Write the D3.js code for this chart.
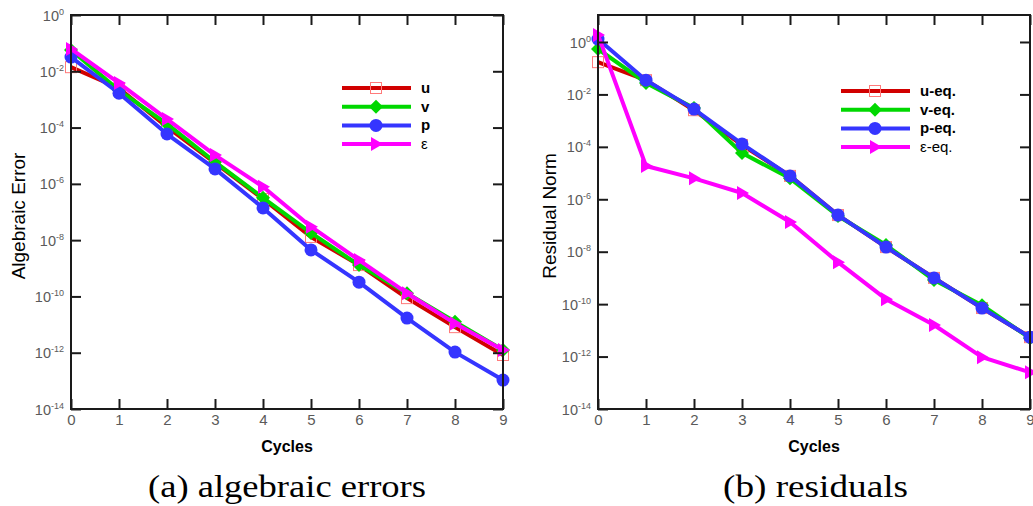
<!DOCTYPE html>
<html>
<head>
<meta charset="utf-8">
<script src="https://cdn.jsdelivr.net/npm/d3@7"></script>
<style>
  body { margin: 0; background: #fff; }
  svg { display: block; font-family: "Liberation Sans", Arial, sans-serif; }
  .caption { font-family: "Liberation Serif", "Times New Roman", serif; }
</style>
</head>
<body>
<svg id="chart" width="1033" height="506"></svg>
<script>
// cycles on the x axis
const cycles = [0, 1, 2, 3, 4, 5, 6, 7, 8, 9];
const decadeTicks = [1e0, 1e-2, 1e-4, 1e-6, 1e-8, 1e-10, 1e-12, 1e-14];

// (a) algebraic errors
const errU   = [1.4e-2, 2.5e-3, 1.05e-4, 5.5e-6, 2.9e-7, 1.3e-8, 1.3e-9, 8.7e-11, 8.1e-12, 8.3e-13];
const errV   = [5.7e-2, 2.1e-3, 1.35e-4, 6.0e-6, 3.2e-7, 1.8e-8, 1.3e-9, 1.3e-10, 1.26e-11, 1.26e-12];
const errP   = [3.2e-2, 1.66e-3, 5.9e-5, 3.4e-6, 1.4e-7, 4.5e-9, 3.2e-10, 1.7e-11, 1.05e-12, 1.07e-13];
const errEps = [6.2e-2, 3.8e-3, 2.0e-4, 1.05e-5, 7.9e-7, 3.0e-8, 1.95e-9, 1.3e-10, 1.1e-11, 1.26e-12];

// (b) residuals
const resU   = [0.17, 3.5e-2, 2.5e-3, 1.17e-4, 7.8e-6, 2.5e-7, 1.5e-8, 1.0e-9, 7.1e-11, 5.5e-12];
const resV   = [0.54, 2.75e-2, 3.0e-3, 5.8e-5, 6.3e-6, 2.3e-7, 1.8e-8, 8.3e-10, 9.1e-11, 5.0e-12];
const resP   = [1.29, 3.5e-2, 2.75e-3, 1.29e-4, 7.8e-6, 2.5e-7, 1.5e-8, 1.0e-9, 7.1e-11, 5.5e-12];
const resEps = [1.86, 1.86e-5, 6.3e-6, 1.74e-6, 1.35e-7, 4.0e-9, 1.55e-10, 1.6e-11, 9.5e-13, 2.5e-13];

const namesA = ["u", "v", "p", "\u03b5"];
const namesB = ["u-eq.", "v-eq.", "p-eq.", "\u03b5-eq."];

// series styles: line colour, marker type
const styles = [
  {color: "#d10000", marker: "square"},
  {color: "#00d800", marker: "diamond"},
  {color: "#3535ff", marker: "circle"},
  {color: "#ff00ff", marker: "triangle"}
];

const svg = d3.select("#chart");

function drawMarker(g, type, cx, cy, color) {
  if (type === "square") {
    g.append("rect").attr("x", cx - 5.5).attr("y", cy - 5.5)
      .attr("width", 11).attr("height", 11)
      .attr("fill", "none").attr("stroke", "#ff7a7a").attr("stroke-width", 1);
  } else if (type === "diamond") {
    g.append("path").attr("d", `M${cx},${cy - 7}L${cx + 7},${cy}L${cx},${cy + 7}L${cx - 7},${cy}Z`)
      .attr("fill", color);
  } else if (type === "circle") {
    g.append("circle").attr("cx", cx).attr("cy", cy).attr("r", 6.5).attr("fill", color);
  } else {
    g.append("path").attr("d", `M${cx - 5},${cy - 7}L${cx + 7},${cy}L${cx - 5},${cy + 7}Z`)
      .attr("fill", color);
  }
}

function drawPanel(opt) {
  const x = d3.scaleLinear().domain([0, 9]).range([opt.left, opt.right]);
  const y = d3.scaleLog().domain([1e-14, opt.top]).range([opt.bottom, opt.topY]);

  // series
  const line = d3.line().x((d, i) => x(cycles[i])).y(d => y(d));
  opt.series.forEach((vals, k) => {
    const st = styles[k];
    const g = svg.append("g");
    g.append("path").datum(vals)
      .attr("fill", "none").attr("stroke", st.color)
      .attr("stroke-width", 4).attr("stroke-linejoin", "round")
      .attr("d", line);
    vals.forEach((v, i) => drawMarker(g, st.marker, x(cycles[i]), y(v), st.color));
  });

  // frame + inward ticks
  const axStyle = sel => {
    sel.selectAll("line").attr("stroke", "#1a1a1a").attr("stroke-width", 2);
    sel.select(".domain").remove();
    sel.selectAll("text").attr("fill", "#5a5a5a").attr("font-family", "Liberation Sans, Arial, sans-serif");
  };

  const gl = svg.append("g").attr("transform", `translate(${opt.left},0)`)
    .call(d3.axisLeft(y).tickValues(decadeTicks).tickSize(-10).tickSizeOuter(0).tickPadding(7).tickFormat(""))
    .call(axStyle);
  gl.selectAll(".tick text").each(function(d) {
    const t = d3.select(this).attr("font-size", 14.5).attr("dy", "0.35em");
    t.append("tspan").text("10");
    t.append("tspan").attr("dy", -6).attr("font-size", 9)
      .text(String(Math.round(Math.log10(d))));
  });

  svg.append("g").attr("transform", `translate(${opt.right},0)`)
    .call(d3.axisRight(y).tickValues(decadeTicks).tickSize(-10).tickSizeOuter(0).tickFormat(""))
    .call(axStyle);

  svg.append("g").attr("transform", `translate(0,${opt.bottom})`)
    .call(d3.axisBottom(x).tickValues(cycles).tickSize(-10).tickSizeOuter(0).tickPadding(5).tickFormat(d3.format("d")))
    .call(axStyle)
    .selectAll("text").attr("font-size", 15);

  svg.append("g").attr("transform", `translate(0,${opt.topY})`)
    .call(d3.axisTop(x).tickValues(cycles).tickSize(-10).tickSizeOuter(0).tickFormat(""))
    .call(axStyle);

  svg.append("rect")
    .attr("x", opt.left).attr("y", opt.topY)
    .attr("width", opt.right - opt.left).attr("height", opt.bottom - opt.topY)
    .attr("fill", "none").attr("stroke", "#1a1a1a").attr("stroke-width", 2);

  // axis titles
  svg.append("text")
    .attr("x", (opt.left + opt.right) / 2).attr("y", 452)
    .attr("text-anchor", "middle").attr("font-size", 16).attr("font-weight", "bold")
    .text("Cycles");
  svg.append("text")
    .attr("transform", `translate(${opt.yTitleX},${(opt.topY + opt.bottom) / 2 + 4}) rotate(-90)`)
    .attr("text-anchor", "middle").attr("font-size", 19)
    .text(opt.yTitle);

  // legend
  const lg = svg.append("g");
  opt.names.forEach((name, k) => {
    const ly = opt.legY + k * 18.7;
    lg.append("line").attr("x1", opt.legX).attr("x2", opt.legX + 69)
      .attr("y1", ly).attr("y2", ly)
      .attr("stroke", styles[k].color).attr("stroke-width", 4);
    drawMarker(lg, styles[k].marker, opt.legX + 34, ly, styles[k].color);
    lg.append("text").attr("x", opt.legX + 79).attr("y", ly + 5)
      .attr("font-size", 15).attr("font-weight", name.startsWith("\u03b5") ? "normal" : "bold")
      .text(name);
  });

  // caption
  svg.append("text").attr("class", "caption")
    .attr("x", opt.capX).attr("y", 497)
    .attr("font-size", 32)
    .attr("textLength", opt.capLen).attr("lengthAdjust", "spacingAndGlyphs")
    .text(opt.caption);
}

drawPanel({
  left: 71, right: 503, topY: 15, bottom: 409, top: 1,
  series: [errU, errV, errP, errEps], names: namesA,
  yTitle: "Algebraic Error", yTitleX: 25,
  legX: 342, legY: 88,
  caption: "(a) algebraic errors", capX: 148, capLen: 278
});

drawPanel({
  left: 598, right: 1030, topY: 15, bottom: 409, top: 10.7,
  series: [resU, resV, resP, resEps], names: namesB,
  yTitle: "Residual Norm", yTitleX: 556,
  legX: 841, legY: 91,
  caption: "(b) residuals", capX: 723, capLen: 185
});
</script>
</body>
</html>
